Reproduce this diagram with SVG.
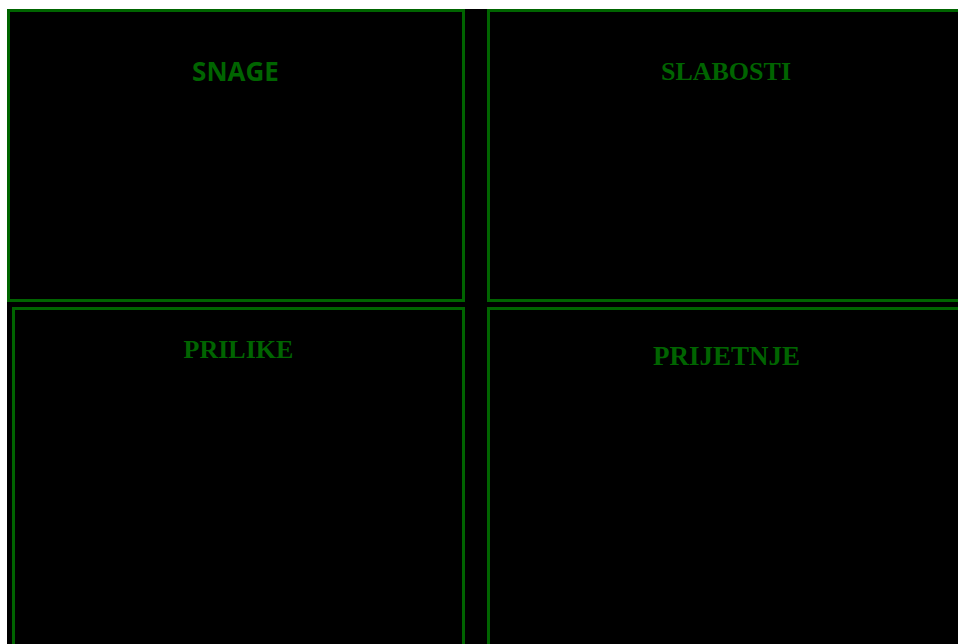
<svg xmlns="http://www.w3.org/2000/svg" width="958" height="644" viewBox="0 0 958 644">
<style>
.box{fill:#000;stroke:#006400;stroke-width:3}
.sans{font-family:"Open Sans","Liberation Sans",Arial,sans-serif;font-weight:bold;fill:#006400;text-anchor:middle}
.serif{font-family:"Liberation Serif","Times New Roman",serif;font-weight:bold;fill:#006400;text-anchor:middle}
</style>
<rect x="0" y="0" width="958" height="644" fill="#fff"/>
<rect x="7" y="9" width="951" height="635" fill="#000"/>
<g id="snage">
<rect class="box" x="8.5" y="10.5" width="455" height="290"/>
<text class="sans" x="235.5" y="81" font-size="26">SNAGE</text>
</g>
<g id="slabosti">
<rect class="box" x="488.5" y="10.5" width="480" height="290"/>
<text class="serif" x="726" y="80" font-size="26">SLABOSTI</text>
</g>
<g id="prilike">
<rect class="box" x="13.5" y="308.5" width="450" height="350"/>
<text class="serif" x="238.5" y="358" font-size="26">PRILIKE</text>
</g>
<g id="prijetnje">
<rect class="box" x="488.5" y="308.5" width="480" height="350"/>
<text class="serif" x="726.5" y="365" font-size="27">PRIJETNJE</text>
</g>
<g id="connectors"></g>
</svg>
